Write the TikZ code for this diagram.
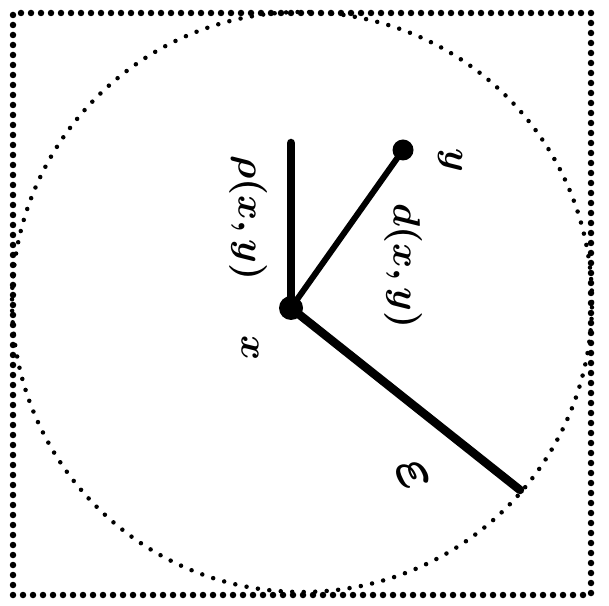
\documentclass[tikz,border=0pt]{standalone}
\usepackage{tikz}
\usetikzlibrary{calc}
\tikzset{
  every node/.style={font=\boldmath},
  frame/.style={line width=6.5pt,line cap=round,dash pattern=on 0pt off 10pt},
  ball/.style={line width=4.5pt,line cap=round,dash pattern=on 0pt off 11.5pt},
  seg/.style={line width=8.5pt,line cap=round},
  thinseg/.style={line width=6pt,line cap=round},
  dot/.style={circle,fill,inner sep=0pt,minimum size=24pt},
  lbl/.style={inner sep=0.5pt,scale=3.8,rotate=-90},
}

\begin{document}
\begin{tikzpicture}[x=1pt,y=1pt]
\useasboundingbox (0,0) rectangle (609,605);

% ball and enclosing box
\draw[frame] (13,10) rectangle (591,592);
\draw[ball] (302,303) circle (290);

% points
\node[dot] (x) at (291,297) {};
\node[dot,minimum size=21pt] (y) at (403,455) {};
\coordinate (top) at (291,462);
\coordinate (rim) at (520,115);

\draw[seg] (x.center) -- (top);
\draw[thinseg] (x.center) -- (y.center);
\draw[seg] (x.center) -- (rim);

% labels
\node[lbl] (xl) at (250,257) {$x$};
\node[lbl] (yl) at (450,445) {$y$};
\node[lbl] (rho) at (248,387) {$\rho(x,y)$};
\node[lbl] (dist) at (403,339) {$d(x,y)$};
\node[lbl,scale=1.6,rotate=25] (eps) at (413,130) {$\varepsilon$};

\end{tikzpicture}
\end{document}
